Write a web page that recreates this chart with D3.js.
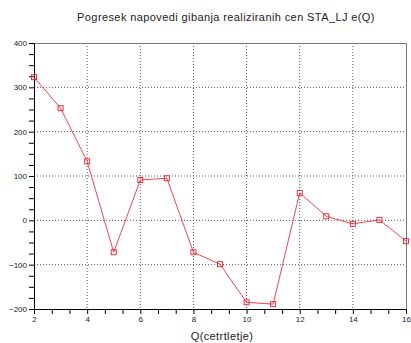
<!DOCTYPE html>
<html>
<head>
<meta charset="utf-8">
<script src="https://cdn.jsdelivr.net/npm/d3@7"></script>
<style>
  body { margin: 0; background: #fff; }
  text { font-family: "Liberation Sans", "DejaVu Sans", sans-serif; }
</style>
</head>
<body>
<svg width="411" height="343"></svg>
<script>
// quarters and forecast error values
const quarters = [2, 3, 4, 5, 6, 7, 8, 9, 10, 11, 12, 13, 14, 15, 16];
const errors = [323, 253, 133, -72, 91, 95, -72, -99, -185, -189, 62, 9, -8, 1, -47];
const xTicks = [2, 4, 6, 8, 10, 12, 14, 16];
const yTicks = [-200, -100, 0, 100, 200, 300, 400];

const title = "Pogresek napovedi gibanja realiziranih cen STA_LJ e(Q)";
const xLabel = "Q(cetrtletje)";

const svg = d3.select("svg");
const m = { left: 34, right: 5, top: 43, bottom: 34 };
const w = 411 - m.left - m.right;
const h = 343 - m.top - m.bottom;

const x = d3.scaleLinear().domain([2, 16]).range([m.left, m.left + w]);
const y = d3.scaleLinear().domain([-200, 400]).range([m.top + h, m.top]);

// grid
svg.append("g")
  .selectAll("line")
  .data(xTicks.slice(1, -1))
  .join("line")
  .attr("x1", d => x(d)).attr("x2", d => x(d))
  .attr("y1", m.top).attr("y2", m.top + h)
  .attr("stroke", "#555")
  .attr("stroke-dasharray", "1,2");

svg.append("g")
  .selectAll("line")
  .data(yTicks.slice(1, -1))
  .join("line")
  .attr("x1", m.left).attr("x2", m.left + w)
  .attr("y1", d => y(d)).attr("y2", d => y(d))
  .attr("stroke", "#555")
  .attr("stroke-dasharray", "1,2");

// box top/right
svg.append("path")
  .attr("d", `M${m.left},${m.top + 0.5}H${m.left + w + 0.5}V${m.top + h}`)
  .attr("fill", "none")
  .attr("stroke", "#777");

// minor tick values
const yMinor = d3.range(-200, 401, 25).filter(v => v % 100 !== 0);
const xMinor = [];
xTicks.slice(0, -1).forEach(t => { xMinor.push(t + 2 / 3, t + 4 / 3); });

svg.append("g")
  .attr("transform", `translate(${m.left},0)`)
  .call(d3.axisLeft(y).tickValues(yTicks).tickSize(5).tickPadding(2));
svg.append("g")
  .attr("transform", `translate(${m.left},0)`)
  .call(d3.axisLeft(y).tickValues(yMinor).tickSize(5).tickFormat(""))
  .call(g => g.select(".domain").remove());

svg.append("g")
  .attr("transform", `translate(0,${m.top + h})`)
  .call(d3.axisBottom(x).tickValues(xTicks).tickSize(5).tickPadding(2));
svg.append("g")
  .attr("transform", `translate(0,${m.top + h})`)
  .call(d3.axisBottom(x).tickValues(xMinor).tickSize(5).tickFormat(""))
  .call(g => g.select(".domain").remove());

svg.selectAll(".domain").attr("stroke", "#000");
svg.selectAll(".tick line").attr("stroke", "#000");
svg.selectAll(".tick text").attr("font-size", 8).attr("fill", "#222");

// line and markers
const pts = quarters.map((q, i) => [q, errors[i]]);
svg.append("path")
  .datum(pts)
  .attr("fill", "none")
  .attr("stroke", "#f0303a")
  .attr("stroke-width", 0.9)
  .attr("d", d3.line().x(d => x(d[0])).y(d => y(d[1])));

svg.append("g")
  .selectAll("rect")
  .data(pts)
  .join("rect")
  .attr("x", d => x(d[0]) - 2.5)
  .attr("y", d => y(d[1]) - 2.5)
  .attr("width", 5).attr("height", 5)
  .attr("fill", "none")
  .attr("stroke", "#e8202c")
  .attr("stroke-width", 0.9);

// titles
svg.append("text")
  .attr("x", 226).attr("y", 21)
  .attr("text-anchor", "middle")
  .attr("font-size", 11)
  .attr("letter-spacing", 0.4)
  .attr("fill", "#222")
  .text(title);

svg.append("text")
  .attr("x", 222).attr("y", 340)
  .attr("text-anchor", "middle")
  .attr("font-size", 11)
  .attr("letter-spacing", 0.4)
  .attr("fill", "#222")
  .text(xLabel);
</script>
</body>
</html>
